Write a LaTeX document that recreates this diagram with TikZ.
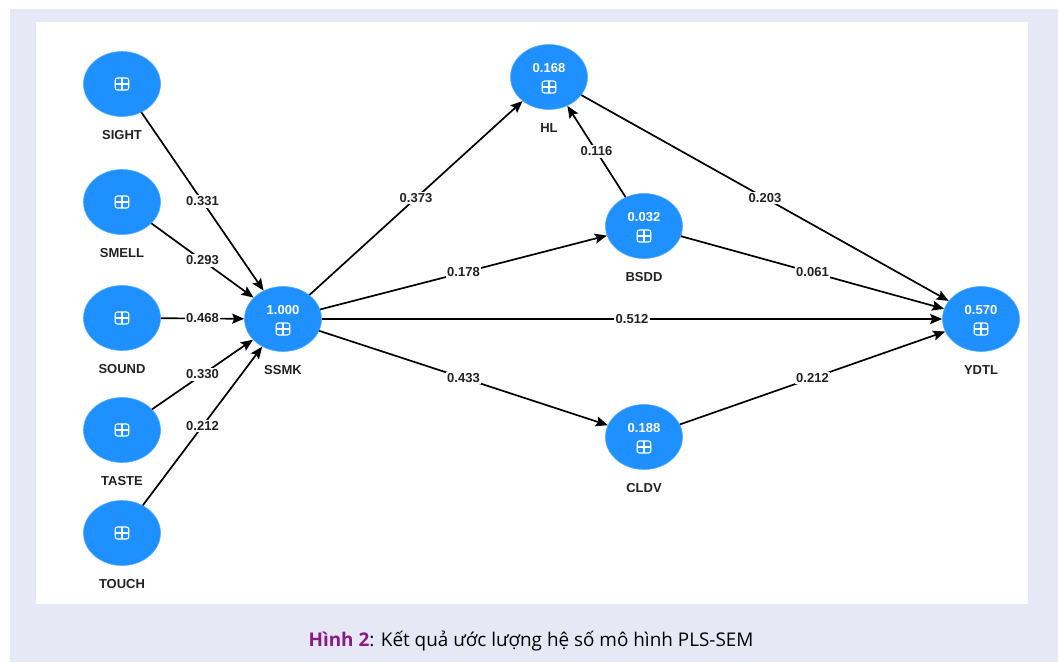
\documentclass[tikz,border=0pt]{standalone}
\usepackage{fontspec}
\setmainfont{Liberation Sans}
\newfontfamily\capfont{Open Sans}
\usetikzlibrary{shapes.geometric,arrows.meta}

\definecolor{pagebg}{HTML}{E6E9F5}
\definecolor{lvblue}{HTML}{1E90FF}
\definecolor{figpurple}{HTML}{8B1A89}
\definecolor{inktext}{HTML}{222222}

\tikzset{
  lv/.style={ellipse, fill=lvblue, draw=lvblue!75!white, line width=0.6pt,
    minimum width=77pt, minimum height=65pt, inner sep=0pt},
  lvval/.style={text=white, anchor=base, inner sep=0pt,
    font=\fontsize{13}{15}\selectfont\bfseries},
  lvicon/.style={draw=white, line width=1.1pt, rounded corners=2.2pt,
    minimum width=13.5pt, minimum height=12pt, inner sep=0pt,
    path picture={\draw[white, line width=1.1pt]
      (path picture bounding box.north) -- (path picture bounding box.south)
      (path picture bounding box.west) -- (path picture bounding box.east);}},
  lvname/.style={text=inktext, anchor=base, inner sep=0pt,
    font=\fontsize{13}{15}\selectfont\bfseries},
  link/.style={-{Stealth[length=12pt,width=10pt,inset=2pt]}, line width=1.7pt, draw=black},
  coef/.style={fill=white, inner sep=1.5pt, text=inktext,
    font=\fontsize{13}{15}\selectfont\bfseries},
}

% indicator-level construct: icon only
\newcommand\lvleaf[4]{%
  \node[lv] (#1) at (#2,#3) {};
  \node[lvicon] (#1-icon) at (#2,#3) {};
  \node[lvname] (#1-name) at (#2,#3+55.5) {#4};
}
% endogenous construct: R-squared value above the icon
\newcommand\lvinner[5]{%
  \node[lv] (#1) at (#2,#3) {};
  \node[lvval] (#1-val) at (#2,#3-4.5) {#4};
  \node[lvicon] (#1-icon) at (#2,#3+10) {};
  \node[lvname] (#1-name) at (#2,#3+55.5) {#5};
}

\begin{document}
\begin{tikzpicture}[x=1pt,y=-1pt]
  \useasboundingbox (0,0) rectangle (1058,662);
  \fill[white] (0,0) rectangle (1058,662);
  \fill[pagebg] (10,9) rectangle (1058,662);
  \fill[white] (36,22) rectangle (1028,604);

  % constructs
  \lvleaf{SIGHT}{122}{84}{SIGHT}
  \lvleaf{SMELL}{122}{202}{SMELL}
  \lvleaf{SOUND}{122}{318}{SOUND}
  \lvleaf{TASTE}{122}{430}{TASTE}
  \lvleaf{TOUCH}{122}{533}{TOUCH}
  \lvinner{SSMK}{283}{319}{1.000}{SSMK}
  \lvinner{HL}{549}{77}{0.168}{HL}
  \lvinner{BSDD}{644}{226}{0.032}{BSDD}
  \lvinner{CLDV}{644}{437}{0.188}{CLDV}
  \lvinner{YDTL}{981}{319}{0.570}{YDTL}

  % path coefficients
  \draw[link] (SIGHT) -- node[coef]{0.331} (SSMK);
  \draw[link] (SMELL) -- node[coef]{0.293} (SSMK);
  \draw[link] (SOUND) -- node[coef]{0.468} (SSMK);
  \draw[link] (TASTE) -- node[coef]{0.330} (SSMK);
  \draw[link] (TOUCH) -- node[coef]{0.212} (SSMK);
  \draw[link] (SSMK) -- node[coef]{0.373} (HL);
  \draw[link] (SSMK) -- node[coef]{0.178} (BSDD);
  \draw[link] (SSMK) -- node[coef]{0.512} (YDTL);
  \draw[link] (SSMK) -- node[coef]{0.433} (CLDV);
  \draw[link] (BSDD) -- node[coef]{0.116} (HL);
  \draw[link] (HL) -- node[coef]{0.203} (YDTL);
  \draw[link] (BSDD) -- node[coef]{0.061} (YDTL);
  \draw[link] (CLDV) -- node[coef]{0.212} (YDTL);

  % caption
  \node[anchor=base, inner sep=0pt, font=\capfont\fontsize{18.9}{22}\selectfont] (caption) at (531,646)
    {\textcolor{figpurple}{\bfseries Hình 2}: Kết quả ước lượng hệ số mô hình PLS-SEM};
\end{tikzpicture}
\end{document}
